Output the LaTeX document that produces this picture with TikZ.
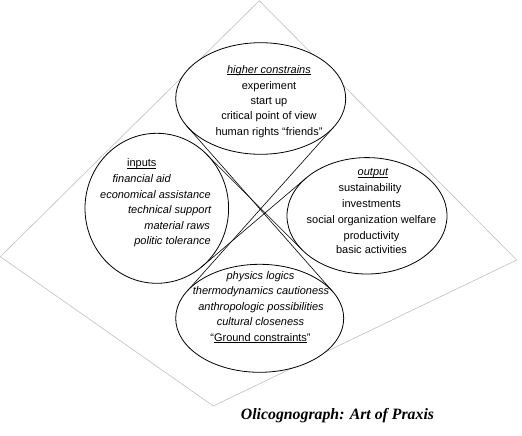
\documentclass[tikz,border=0pt]{standalone}
\usepackage{fontspec}
\setmainfont{Liberation Sans}
\newfontfamily\titlefont{Liberation Serif}
\usetikzlibrary{shapes.geometric}
\newcommand\ulx[1]{\sbox0{#1}\rlap{\rule[-1.8pt]{\wd0}{0.55pt}}\usebox0}
\begin{document}
\begin{tikzpicture}[x=1pt,y=-1pt,
  oval/.style={ellipse, draw=black, line width=0.8pt, fill=white, inner sep=0pt, outer sep=0pt},
  tangent/.style={draw=black, line width=0.6pt},
  frame/.style={draw=black!25, line width=0.6pt},
  txt/.style={inner sep=0pt, font=\fontsize{11}{13}\selectfont, text height=8pt, text depth=2.3pt},
  itxt/.style={txt, font=\fontsize{11}{13}\selectfont\itshape},
  ttl/.style={inner sep=0pt, font=\titlefont\bfseries\itshape\fontsize{15.8}{18}\selectfont}]
\useasboundingbox (0,0) rectangle (522,436);
\draw[frame] (259.3,0.7) -- (516.7,260) -- (213.3,406) -- (0.3,256.7) -- cycle;

\node[oval, minimum width=170pt, minimum height=111.6pt] (T) at (260.7,98.5) {};
\node[oval, minimum width=143.6pt, minimum height=150pt] (L) at (156.8,208.3) {};
\node[oval, minimum width=160pt, minimum height=116.4pt] (R) at (367,215.8) {};
\node[oval, minimum width=168pt, minimum height=108pt] (B) at (259.7,318.3) {};

\draw[tangent] (T.200.8) -- (B.20.0);
\draw[tangent] (T.338.9) -- (B.159.7);
\draw[tangent] (L.47.5) -- (R.207.9);
\draw[tangent] (R.148.1) -- (L.307.9);

% top
\node[itxt] (t1) at (269,70.3) {\ulx{higher constrains}};
\node[txt] (t2) at (269,86.2) {experiment};
\node[txt] (t3) at (269,101.7) {start up};
\node[txt] (t4) at (269,117) {critical point of view};
\node[txt] (t5) at (269,132.5) {human rights “friends”};
% left
\node[txt] (l1) at (141.8,164) {\ulx{inputs}};
\node[itxt] (l2) at (141.7,180) {financial aid};
\node[itxt, anchor=east] (l3) at (211,195.5) {economical assistance};
\node[itxt, anchor=east] (l4) at (211.5,210.7) {technical support};
\node[itxt, anchor=east] (l5) at (210,227) {material raws};
\node[itxt, anchor=east] (l6) at (211,241.7) {politic tolerance};
% right
\node[itxt] (r1) at (373,173) {\ulx{output}};
\node[txt] (r2) at (370,189) {sustainability};
\node[txt] (r3) at (371.5,204.2) {investments};
\node[txt] (r4) at (371.5,220.2) {social organization welfare};
\node[txt] (r5) at (371.5,236.2) {productivity};
\node[txt] (r6) at (371.5,250.7) {basic activities};
% bottom
\node[itxt] (b1) at (260.5,276.3) {physics logics};
\node[itxt] (b2) at (261,292) {thermodynamics cautioness};
\node[itxt] (b3) at (261,307.7) {anthropologic possibilities};
\node[itxt] (b4) at (260.5,322.5) {cultural closeness};
\node[txt] (b5) at (260.5,338.2) {“\ulx{Ground constraints}”};

\node[ttl, anchor=base] (title) at (337.5,419.3) {Olicognograph: Art of Praxis};
\end{tikzpicture}
\end{document}
